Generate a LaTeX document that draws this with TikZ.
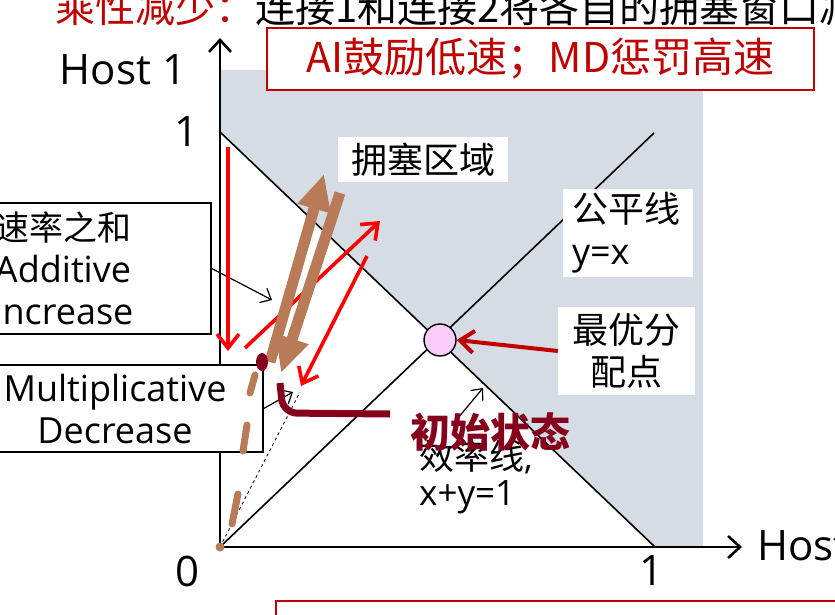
\documentclass[tikz,border=0pt]{standalone}
\usepackage{fontspec}
\setmainfont{Open Sans}
\newfontfamily\cjk{Noto Sans CJK SC}
\usetikzlibrary{arrows.meta}
\definecolor{slidered}{RGB}{192,0,0}
\definecolor{congest}{RGB}{214,220,228}
\definecolor{inkbrown}{RGB}{185,122,87}
\definecolor{inkred}{RGB}{134,0,30}
\definecolor{optpink}{RGB}{250,204,250}

\begin{document}
\begin{tikzpicture}[x=1pt, y=-1pt,
  axis/.style={line width=2.6pt, -{Straight Barb[length=12pt,width=22pt]}},
  thinline/.style={line width=1.6pt},
  pointer/.style={line width=1.2pt, -{Straight Barb[length=9pt,width=16pt]}},
  redstep/.style={red, line width=3.6pt, -{Straight Barb[length=14pt,width=22pt]}},
  inkarrow/.style={inkbrown, line width=11pt, -{Triangle[length=36pt,width=32pt]}},
  lbl/.style={font=\fontsize{42}{46}\selectfont, inner sep=0pt},
  whitebox/.style={fill=white, inner sep=0pt, align=center},
  sidebox/.style={draw, line width=1.4pt, fill=white, minimum width=296pt, align=center, font=\fontsize{36}{42}\selectfont}
]
\useasboundingbox (0,0) rectangle (835,615);
\clip (0,0) rectangle (835,615);

% slide title (cut off at the top)
\node[anchor=base west, inner sep=0pt, font=\cjk\fontsize{40}{42}\selectfont] (title) at (55,23)
  {\textcolor{slidered}{乘性减少：}连接1和连接2将各自的拥塞窗口减半};

% axes and the unit points
\coordinate (O) at (220,547);
\coordinate (ytip) at (220,38);
\coordinate (xtip) at (742,547);
\coordinate (y1) at (220,132);
\coordinate (x1) at (655,547);
\coordinate (fairend) at (654,133);

% congested region
\fill[congest] (220,70) -- (703,70) -- (703,547) -- (x1) -- (y1) -- cycle;

\draw[thinline] (y1) -- (x1);
\draw[thinline] (O) -- (fairend);
\draw[axis] (O) -- (ytip);
\draw[axis] (O) -- (xtip);

\node[lbl] (host1) at (123,70) {Host 1};
\node[lbl, anchor=west] (host2) at (757,545) {Host 2};
\node[lbl] (one1) at (187,132) {1};
\node[lbl] (zero) at (188,571) {0};
\node[lbl] (one2) at (651,571) {1};

% optimal point
\node[circle, draw, line width=1.4pt, fill=optpink, minimum size=32pt, inner sep=0pt] (opt) at (440,340) {};

% labels on the right
\node[draw=slidered, line width=1.5pt, fill=white, minimum width=547pt, minimum height=62pt,
  text=slidered, font=\cjk\fontsize{41}{44}\selectfont] (motto) at (540.5,59) {AI鼓励低速；MD惩罚高速};
\node[whitebox, minimum width=170pt, minimum height=45pt, font=\cjk\fontsize{36}{40}\selectfont] (zone) at (423,159.5) {拥塞区域};
\node[whitebox, minimum width=130pt, minimum height=88pt, align=left, text width=112pt, font=\fontsize{36}{42}\selectfont] (fair) at (628,233)
  {{\cjk 公平线}\\y=x};
\node[whitebox, minimum width=137pt, minimum height=88pt, font=\cjk\fontsize{36}{42}\selectfont] (best) at (626.5,351)
  {最优分\\配点};
\draw[slidered, line width=4pt, -{Straight Barb[length=14pt,width=22pt]}] (best.west) -- (opt.east);

% efficiency line label
\node[anchor=north west, align=left, inner sep=0pt, font=\fontsize{35}{36}\selectfont] (eff) at (419,440)
  {{\cjk 效率线},\\x+y=1};
\coordinate (efffoot) at (458,418);
\coordinate (effhead) at (483,388);
\draw[pointer] (efffoot) -- (effhead);

% boxes on the left
\node[sidebox, minimum height=131pt] (ai) at (63,268.5) {{\cjk\fontsize{34}{42}\selectfont 速率之和}\\Additive\\Increase};
\node[sidebox, minimum height=87pt] (md) at (115,408.5) {Multiplicative\\Decrease};
\coordinate (aihead) at (272,300);
\coordinate (mdhead) at (293,392);
\draw[pointer] (ai.east) -- (aihead);
\draw[pointer] (md.east) -- (mdhead);

% path of the two connections
\coordinate (start) at (300,392);
\draw[dashed, line width=0.8pt] (O) -- (start);
\draw[redstep] (228,147) -- (228,351);
\draw[redstep] (245,348) -- (380,221);
\draw[redstep] (367,256) -- (301,386);

% hand drawn marks
\draw[inkarrow] (270,362) -- (324,174);
\draw[inkarrow] (340,193) -- (281,373);
\fill[inkred] (262,362) ellipse (6 and 9);
\draw[inkbrown, line width=7pt, line cap=round]
  (255,375) -- (250,393) (247,425) -- (243,451) (238,494) -- (232,524);
\fill[inkbrown] (O) circle (4.5);
\draw[inkred, line width=7pt, rounded corners=14pt] (280,383) -- (283,413) -- (390,414);
\node[text=inkred, font=\cjk\bfseries\fontsize{40}{44}\selectfont] (init) at (490,432) {初始状态};

% next box on the slide (cut off)
\draw[slidered, line width=1.5pt] (276,630) -- (276,601) -- (900,601);

\end{tikzpicture}
\end{document}
